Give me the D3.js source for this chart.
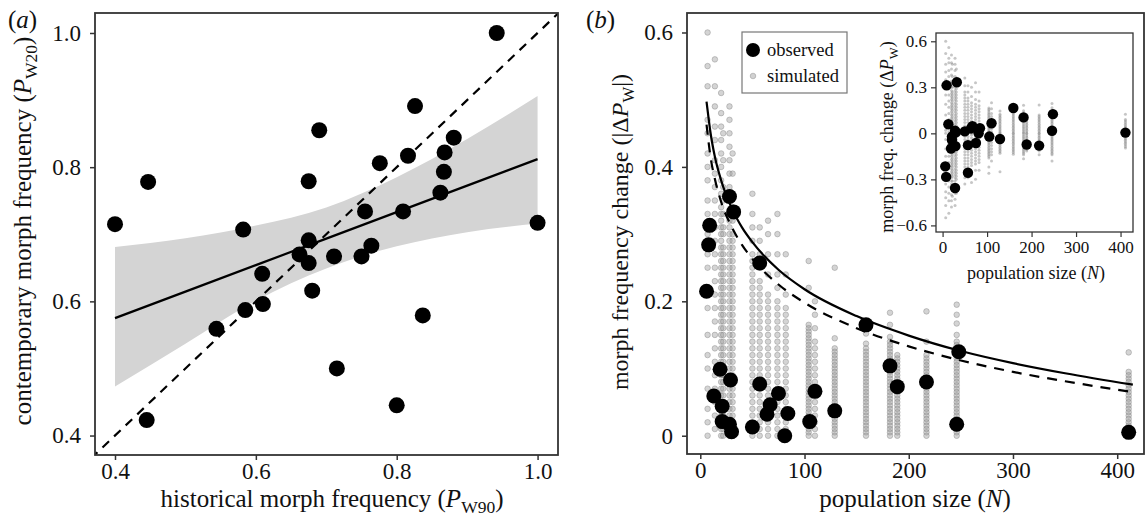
<!DOCTYPE html>
<html>
<head>
<meta charset="utf-8">
<script src="https://cdn.jsdelivr.net/npm/d3@7"></script>
<style>
  body { margin: 0; background: #fff; }
  svg { display: block; font-family: 'Liberation Serif', 'Times New Roman', serif; }
</style>
</head>
<body>
<script>
/*
 * (a) historical vs contemporary morph frequency
 * (b) morph frequency change vs population size, with inset of signed change
 */

// ---- panel (a) data ----
const histFreq = [0.400, 0.447, 0.582, 0.445, 0.544, 0.585, 0.610, 0.609, 0.942, 0.826,
                  0.690, 0.675, 0.881, 0.868, 0.816, 0.776, 0.867, 0.862, 0.809, 0.755,
                  1.000, 0.675, 0.764, 0.662, 0.675, 0.711, 0.750, 0.680, 0.837, 0.715, 0.800];
const contFreq = [0.715, 0.778, 0.707, 0.423, 0.559, 0.587, 0.596, 0.641, 1.000, 0.891,
                  0.855, 0.779, 0.844, 0.822, 0.817, 0.806, 0.793, 0.762, 0.734, 0.734,
                  0.717, 0.691, 0.683, 0.670, 0.657, 0.667, 0.667, 0.616, 0.579, 0.500, 0.445];

// linear fit and its confidence band
const fitX  = [0.4, 0.5, 0.6, 0.7, 0.8, 0.9, 1.0];
const fitY  = [0.575, 0.6145, 0.654, 0.6935, 0.733, 0.7725, 0.812];
const bandLo = [0.473, 0.537, 0.601, 0.649, 0.682, 0.703, 0.716];
const bandHi = [0.681, 0.694, 0.713, 0.740, 0.785, 0.842, 0.906];

// ---- panel (b) data ----
// observed populations: size N and signed change in morph frequency
const obsN = [6, 8, 9, 13, 19, 21, 21, 28, 28, 29, 30, 32, 50, 57, 57,
              64, 67, 75, 81, 84, 105, 110, 129, 159, 182, 189, 217, 246, 248, 411];
const obsDelta = [-0.215, -0.284, 0.313, 0.059, -0.099, -0.044, -0.021, 0.017, -0.356, -0.083,
                  0.006, 0.333, 0.013, -0.257, -0.077, 0.032, 0.046, -0.063, 0.000, 0.033,
                  -0.021, 0.066, -0.037, 0.165, 0.104, -0.073, -0.080, 0.017, 0.125, 0.005];

// simulated changes, one strip per population size (values in %, signed)
const simN = [7, 14, 20, 22, 28, 31, 50, 57, 65, 74, 82, 104, 110, 129, 159, 182, 189, 217, 246, 411];
const simPct = [
  [60, -55, 52, -47, 45, -42, 40, -38, 35, -33, 30, -27, 25, -22, 19, -15, 12, -10, 7, -4, 2, 0],
  [56, -52, 49, 46, -44, 41, -39, 37, -35, 33, -31, 29, -27, 25, -23, 21, -19, 17, -15, 13, -11, 9, -7, 5, -3, 1],
  [51, -48, 46, -44, 42, -40, 38, -36, 34, -33, 32, -31, 30, -29, 28, -27, 26, -25, 24, -23, 22, -21,
   20, -19, 18, -17, 16, -15, 14, -13, 12, -11, 10, -9, 8, -7, 6, -5, 4, -3, 2, -1, 0],
  [45, -41, 37, -35, 33, -31, 30, -28, 27, -26, 25, -24, 23, -22, 21, -20, 19, -18, 17, -16, 15, -14,
   13, -12, 11, -10, 9, -8, 7, -6, 5, -4, 3, -2, 1, 0],
  [49, -47, 45, -43, 41, -39, 37, -35, 33, 32, -31, 30, -29, 28, -27, 26, -25, 24, -23, 22, -21, 20,
   -19, 18, -17, 16, -15, 14, -13, 12, -11, 10, -9, 8, -7, 6, -5, 4, -3, 2, -1, 0],
  [42, -39, 36, -34, 32, -30, 29, -28, 27, -26, 25, -24, 23, -22, 21, -20, 19, -18, 17, -16, 15, -14,
   13, -12, 11, -10, 9, -8, 7, -6, 5, -4, 3, -2, 1, 0],
  [36, -33, 31, -29, 27, -26, 25, -24, 23, -22, 21, -20, 19, -18, 17, -16, 15, -14, 13, -12, 11, -10,
   9, -8, 7, -6, 5, -4, 3, -2, 1, 0],
  [31, -29, 27, -25, 23, -22, 21, -20, 19, -18, 17, -16, 15, -14, 13, -12, 11, -10, 9, -8, 7, -6, 5, -4, 3, -2, 1, 0],
  [-32, 30, -27, 24, -21, 20, -19, 18, -17, 16, -15, 14, -13, 12, -11, 10, -9, 8, -7, 6, -5, 4, -3, 2, -1, 0],
  [33, -30, 27, -24, 22, -20, 19, -18, 17, -16, 15, -14, 13, -12, 11, -10, 9, -8, 7, -6, 5, -4, 3, -2, 1, 0],
  [27, -24, 21, -19, 18, -17, 16, -15, 14, -13, 12, -11, 10, -9, 8, -7, 6, -5, 4, -3, 2, -1, 0],
  [-26, -22, 16.5, -16, 15.5, -15, 14.5, -14, 13.5, -13, 12.5, -12, 11.5, -11, 10.5, -10, 9.5, -9, 8.5,
   -8, 7.5, -7, 6.5, -6, 5.5, -5, 4.5, -4, 3.5, -3, 2.5, -2, 1.5, -1, 0.5, 0],
  [20, -18, 16, -14, 13, -12, 11, -10, 9, -8, 7, -6, 5, -4, 3, -2, 1, 0],
  [-25, 14.5, -13, 12.5, -12, 11.5, -11, 10.5, -10, 9.5, -9, 8.5, -8, 7.5, -7, 6.5, -6, 5.5, -5, 4.5,
   -4, 3.5, -3, 2.5, -2, 1.5, -1, 0.5, 0],
  [15.2, -13.7, 13, -12.5, 12, -11.5, 11, -10.5, 10, -9.5, 9, -8.5, 8, -7.5, 7, -6.5, 6, -5.5, 5, -4.5,
   4, -3.5, 3, -2.5, 2, -1.5, 1, -0.5, 0],
  [18.3, -16.5, 14.7, -14, 13.5, -13, 12.5, -12, 11.5, -11, 10.5, -10, 9.5, -9, 8.5, -8, 7.5, -7, 6.5,
   -6, 5.5, -5, 4.5, -4, 3.5, -3, 2.5, -2, 1.5, -1, 0.5, 0],
  [12, -11.5, 11, -10.5, 10, -9.5, 9, -8.5, 8, -7.5, 7, -6.5, 6, -5.5, 5, -4.5, 4, -3.5, 3, -2.5, 2, -1.5, 1, -0.5, 0],
  [18.5, -14, 12, -11.5, 11, -10.5, 10, -9.5, 9, -8.5, 8, -7.5, 7, -6.5, 6, -5.5, 5, -4.5, 4, -3.5, 3,
   -2.5, 2, -1.5, 1, -0.5, 0],
  [19.5, -18, 16.7, 15, -14, 13.5, -13, 12.5, -12, 11.5, -11, 10.5, -10, 9.5, -9, 8.5, -8, 7.5, -7, 6.5,
   -6, 5.5, -5, 4.5, -4, 3.5, -3, 2.5, -2, 1.5, -1, 0.5, 0],
  [12.4, -9.5, 9, -8.5, 8, -7.5, 7, -6.5, 6, -5.5, 5, -4.5, 4, -3.5, 3, -2.5, 2, -1.5, 1, -0.5, 0]
];

// expected change curves (solid and dashed)
const curveN      = [6, 8, 10, 14, 20, 30, 40, 50, 75, 100, 150, 200, 250, 300, 350, 415];
const curveSolid  = [0.497, 0.472, 0.449, 0.415, 0.380, 0.339, 0.310, 0.288, 0.247, 0.218,
                     0.178, 0.149, 0.126, 0.108, 0.093, 0.076];
const curveDashed = [0.463, 0.436, 0.413, 0.382, 0.348, 0.311, 0.284, 0.263, 0.225, 0.198,
                     0.160, 0.133, 0.112, 0.095, 0.081, 0.065];

/*
 * Canvas and helpers.
 */

const W = 1145, H = 522;
const INK = '#111';
const FRAME = '#333';

const svg = d3.select('body').append('svg')
    .attr('width', W)
    .attr('height', H);

const addAxes = (box, x, y, o) => {
  const g = svg.append('g');
  g.append('g')
      .attr('transform', `translate(0,${box.bottom})`)
      .call(d3.axisBottom(x).tickValues(o.xTicks).tickFormat(o.xFmt)
              .tickSize(o.tick).tickPadding(o.padX))
      .attr('font-family', null)
      .attr('font-size', o.fs)
      .call(s => s.select('.domain').remove())
      .call(s => s.selectAll('line').attr('stroke', FRAME).attr('stroke-width', o.sw))
      .call(s => s.selectAll('text').attr('fill', INK));
  g.append('g')
      .attr('transform', `translate(${box.left},0)`)
      .call(d3.axisLeft(y).tickValues(o.yTicks).tickFormat(o.yFmt)
              .tickSize(o.tick).tickPadding(o.padY))
      .attr('font-family', null)
      .attr('font-size', o.fs)
      .call(s => s.select('.domain').remove())
      .call(s => s.selectAll('line').attr('stroke', FRAME).attr('stroke-width', o.sw))
      .call(s => s.selectAll('text').attr('fill', INK));
};

const addFrame = (box, sw) => {
  svg.append('rect')
      .attr('x', box.left)
      .attr('y', box.top)
      .attr('width', box.right - box.left)
      .attr('height', box.bottom - box.top)
      .attr('fill', 'none')
      .attr('stroke', FRAME)
      .attr('stroke-width', sw);
};

const addClip = (id, box) => {
  svg.append('clipPath').attr('id', id)
    .append('rect')
      .attr('x', box.left)
      .attr('y', box.top)
      .attr('width', box.right - box.left)
      .attr('height', box.bottom - box.top);
};

// title with italic P and a subscript: pre + P_sub + post
const addPTitle = (sel, pre, sub, post, sub_dy) => {
  sel.append('tspan').text(pre);
  sel.append('tspan').attr('font-style', 'italic').text('P');
  sel.append('tspan').attr('font-size', '0.7em').attr('dy', sub_dy).text(sub);
  sel.append('tspan').attr('dy', -sub_dy).text(post);
};

const fmt1 = d => d === 0 ? '0' : d3.format('.1f')(d);

/*
 * Panel (a)
 */

const boxA = {left: 95, right: 558, top: 13, bottom: 455};
const xA = d3.scaleLinear().domain([0.3716, 1.029]).range([boxA.left, boxA.right]);
const yA = d3.scaleLinear().domain([0.371, 1.0298]).range([boxA.bottom, boxA.top]);
addClip('clipA', boxA);

const fitRows = fitX.map((x, i) => ({x, y: fitY[i], lo: bandLo[i], hi: bandHi[i]}));

svg.append('path')
    .datum(fitRows)
    .attr('d', d3.area().x(d => xA(d.x)).y0(d => yA(d.lo)).y1(d => yA(d.hi))
            .curve(d3.curveMonotoneX))
    .attr('fill', '#d4d4d4');

svg.append('path')
    .datum(fitRows)
    .attr('d', d3.line().x(d => xA(d.x)).y(d => yA(d.y)))
    .attr('fill', 'none')
    .attr('stroke', '#000')
    .attr('stroke-width', 2.2);

// 1:1 line
svg.append('path')
    .datum([0.3, 1.1])
    .attr('clip-path', 'url(#clipA)')
    .attr('d', d3.line().x(d => xA(d)).y(d => yA(d)))
    .attr('fill', 'none')
    .attr('stroke', '#000')
    .attr('stroke-width', 2.2)
    .attr('stroke-dasharray', '9,7');

svg.append('g')
  .selectAll('circle')
  .data(histFreq.map((x, i) => ({x, y: contFreq[i]})))
  .enter()
  .append('circle')
    .attr('cx', d => xA(d.x))
    .attr('cy', d => yA(d.y))
    .attr('r', 8)
    .attr('fill', '#000');

addFrame(boxA, 1.8);
addAxes(boxA, xA, yA, {
  xTicks: [0.4, 0.6, 0.8, 1.0], yTicks: [0.4, 0.6, 0.8, 1.0],
  xFmt: fmt1, yFmt: fmt1, tick: 5, padX: 3, padY: 9, fs: 23, sw: 1.5
});

addPTitle(svg.append('text')
    .attr('x', 332).attr('y', 507)
    .attr('text-anchor', 'middle')
    .attr('font-size', 25)
    .attr('fill', INK),
  'historical morph frequency (', 'W90', ')', 6);

addPTitle(svg.append('text')
    .attr('transform', 'translate(31,231) rotate(-90)')
    .attr('text-anchor', 'middle')
    .attr('font-size', 25)
    .attr('fill', INK),
  'contemporary morph frequency (', 'W20', ')', 6);

svg.append('text')
    .attr('x', 8).attr('y', 28)
    .attr('font-size', 25)
    .attr('fill', INK)
    .call(t => {
      t.append('tspan').text('(');
      t.append('tspan').attr('font-style', 'italic').text('a');
      t.append('tspan').text(')');
    });

/*
 * Panel (b)
 */

const boxB = {left: 687, right: 1144, top: 13, bottom: 454};
const xB = d3.scaleLinear().domain([-12.75, 425.7]).range([boxB.left, boxB.right]);
const yB = d3.scaleLinear().domain([-0.0272, 0.629]).range([boxB.bottom, boxB.top]);

const simRows = simN.flatMap((n, i) => simPct[i].map(v => ({n, v: v / 100})));
const obsRows = obsN.map((n, i) => ({n, v: obsDelta[i]}));

svg.append('g')
  .selectAll('circle')
  .data(simRows)
  .enter()
  .append('circle')
    .attr('cx', d => xB(d.n))
    .attr('cy', d => yB(Math.abs(d.v)))
    .attr('r', 2.8)
    .attr('fill', '#999')
    .attr('fill-opacity', 0.42)
    .attr('stroke', '#808080')
    .attr('stroke-opacity', 0.5)
    .attr('stroke-width', 0.8);

const curveRows = curveN.map((n, i) => ({n, s: curveSolid[i], d: curveDashed[i]}));

svg.append('path')
    .datum(curveRows)
    .attr('d', d3.line().x(d => xB(d.n)).y(d => yB(d.s)).curve(d3.curveMonotoneX))
    .attr('fill', 'none')
    .attr('stroke', '#000')
    .attr('stroke-width', 2.2);

svg.append('path')
    .datum(curveRows)
    .attr('d', d3.line().x(d => xB(d.n)).y(d => yB(d.d)).curve(d3.curveMonotoneX))
    .attr('fill', 'none')
    .attr('stroke', '#000')
    .attr('stroke-width', 2.2)
    .attr('stroke-dasharray', '10,8');

svg.append('g')
  .selectAll('circle')
  .data(obsRows)
  .enter()
  .append('circle')
    .attr('cx', d => xB(d.n))
    .attr('cy', d => yB(Math.abs(d.v)))
    .attr('r', 7.5)
    .attr('fill', '#000');

addFrame(boxB, 1.8);
addAxes(boxB, xB, yB, {
  xTicks: [0, 100, 200, 300, 400], yTicks: [0, 0.2, 0.4, 0.6],
  xFmt: d3.format('d'), yFmt: fmt1, tick: 5, padX: 3, padY: 9, fs: 23, sw: 1.5
});

svg.append('text')
    .attr('x', 915).attr('y', 507)
    .attr('text-anchor', 'middle')
    .attr('font-size', 25)
    .attr('fill', INK)
    .call(t => {
      t.append('tspan').text('population size (');
      t.append('tspan').attr('font-style', 'italic').text('N');
      t.append('tspan').text(')');
    });

addPTitle(svg.append('text')
    .attr('transform', 'translate(628,232) rotate(-90)')
    .attr('text-anchor', 'middle')
    .attr('font-size', 24)
    .attr('fill', INK),
  'morph frequency change (|Δ', 'W', '|)', 6);

svg.append('text')
    .attr('x', 586).attr('y', 28)
    .attr('font-size', 25)
    .attr('fill', INK)
    .call(t => {
      t.append('tspan').text('(');
      t.append('tspan').attr('font-style', 'italic').text('b');
      t.append('tspan').text(')');
    });

// legend
const legend = svg.append('g').attr('transform', 'translate(742,32)');
legend.append('rect')
    .attr('width', 105)
    .attr('height', 61)
    .attr('fill', '#fff')
    .attr('stroke', '#777')
    .attr('stroke-width', 1.2);
legend.append('circle')
    .attr('cx', 11).attr('cy', 18).attr('r', 7)
    .attr('fill', '#000');
legend.append('circle')
    .attr('cx', 11).attr('cy', 44).attr('r', 2.8)
    .attr('fill', '#999').attr('fill-opacity', 0.45)
    .attr('stroke', '#808080').attr('stroke-opacity', 0.5).attr('stroke-width', 0.8);
legend.append('text')
    .attr('x', 25).attr('y', 24)
    .attr('font-size', 18.5).attr('fill', INK)
    .text('observed');
legend.append('text')
    .attr('x', 25).attr('y', 50)
    .attr('font-size', 18.5).attr('fill', INK)
    .text('simulated');

/*
 * Inset: signed change
 */

const boxI = {left: 936, right: 1133, top: 33, bottom: 232};
const xI = d3.scaleLinear().domain([-14.8, 428]).range([boxI.left, boxI.right]);
const yI = d3.scaleLinear().domain([-0.643, 0.654]).range([boxI.bottom, boxI.top]);

svg.append('rect')
    .attr('x', boxI.left).attr('y', boxI.top)
    .attr('width', boxI.right - boxI.left)
    .attr('height', boxI.bottom - boxI.top)
    .attr('fill', '#fff');

svg.append('g')
  .selectAll('circle')
  .data(simRows)
  .enter()
  .append('circle')
    .attr('cx', d => xI(d.n))
    .attr('cy', d => yI(d.v))
    .attr('r', 1.5)
    .attr('fill', '#808080')
    .attr('fill-opacity', 0.45);

svg.append('g')
  .selectAll('circle')
  .data(obsRows)
  .enter()
  .append('circle')
    .attr('cx', d => xI(d.n))
    .attr('cy', d => yI(d.v))
    .attr('r', 5.2)
    .attr('fill', '#000');

addFrame(boxI, 1.3);
addAxes(boxI, xI, yI, {
  xTicks: [0, 100, 200, 300, 400], yTicks: [-0.6, -0.3, 0, 0.3, 0.6],
  xFmt: d3.format('d'), yFmt: fmt1, tick: 5, padX: 4, padY: 4, fs: 17, sw: 1.2
});

svg.append('text')
    .attr('x', 1036).attr('y', 279)
    .attr('text-anchor', 'middle')
    .attr('font-size', 18)
    .attr('fill', INK)
    .call(t => {
      t.append('tspan').text('population size (');
      t.append('tspan').attr('font-style', 'italic').text('N');
      t.append('tspan').text(')');
    });

addPTitle(svg.append('text')
    .attr('transform', 'translate(893,137) rotate(-90)')
    .attr('text-anchor', 'middle')
    .attr('font-size', 18)
    .attr('fill', INK),
  'morph freq. change (Δ', 'W', ')', 4.5);
</script>
</body>
</html>
